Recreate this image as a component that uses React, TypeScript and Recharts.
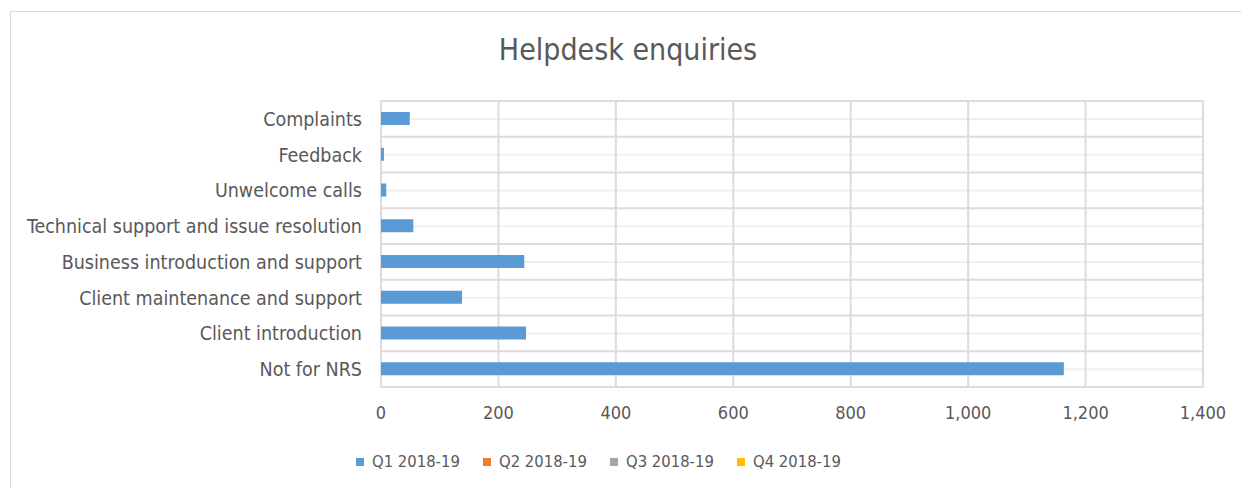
import { BarChart, Bar, XAxis, YAxis, CartesianGrid } from "recharts";

const categories = [
  "Complaints",
  "Feedback",
  "Unwelcome calls",
  "Technical support and issue resolution",
  "Business introduction and support",
  "Client maintenance and support",
  "Client introduction",
  "Not for NRS",
];

const q1 = [49, 5, 9, 55, 244, 138, 247, 1163];
const q2: (number | null)[] = [null, null, null, null, null, null, null, null];
const q3: (number | null)[] = [null, null, null, null, null, null, null, null];
const q4: (number | null)[] = [null, null, null, null, null, null, null, null];

const seriesNames = ["Q1 2018-19", "Q2 2018-19", "Q3 2018-19", "Q4 2018-19"];
const seriesKeys = ["q1", "q2", "q3", "q4"];
const seriesColors = ["#5b9bd5", "#ed7d31", "#a5a5a5", "#ffc000"];

const xTicks = [0, 200, 400, 600, 800, 1000, 1200, 1400];

const data = categories.map((name, i) => ({
  name,
  q1: q1[i],
  q2: q2[i],
  q3: q3[i],
  q4: q4[i],
}));

const FONT = "'DejaVu Sans Condensed', Lato, sans-serif";
const TEXT = "#595959";

const bandLines = (mid: boolean) => ({ offset }: any) => {
  const n = categories.length;
  const out: number[] = [];
  for (let k = 0; k < n + (mid ? 0 : 1); k++) {
    out.push(offset.top + ((k + (mid ? 0.5 : 0)) * offset.height) / n);
  }
  return out;
};

const App = () => {
  return (
    <div
      style={{
        position: "absolute",
        left: 0,
        top: 0,
        width: 1241,
        height: 488,
        background: "#fff",
        overflow: "hidden",
        fontFamily: FONT,
      }}
    >
      <div
        style={{
          position: "absolute",
          left: 10,
          top: 11,
          width: 1240,
          height: 480,
          border: "1.5px solid #d9d9d9",
        }}
      />
      <div
        style={{
          position: "absolute",
          left: 0,
          width: 1256,
          top: 32,
          textAlign: "center",
          fontSize: 30,
          color: TEXT,
        }}
      >
        Helpdesk enquiries
      </div>

      <div style={{ position: "absolute", left: 0, top: 0 }}>
        <BarChart
          width={1241}
          height={488}
          data={data}
          layout="vertical"
          margin={{ top: 101, right: 38, bottom: 71, left: 0 }}
        >
          <CartesianGrid
            vertical={false}
            stroke="#efefef"
            strokeWidth={2}
            horizontalCoordinatesGenerator={bandLines(true)}
          />
          <CartesianGrid
            stroke="#dcdcdc"
            strokeWidth={2}
            horizontalCoordinatesGenerator={bandLines(false)}
          />
          <XAxis
            type="number"
            domain={[0, 1400]}
            ticks={xTicks}
            axisLine={false}
            tickLine={false}
            tickSize={0}
            tickMargin={19}
            height={30}
            tickFormatter={(v: number) => v.toLocaleString("en-US")}
            tick={{ fill: TEXT, fontSize: 18, fontFamily: FONT }}
          />
          <YAxis
            type="category"
            dataKey="name"
            width={381}
            axisLine={false}
            tickLine={false}
            tickSize={0}
            tickMargin={19}
            interval={0}
            tick={{ fill: TEXT, fontSize: 19.5, fontFamily: FONT }}
          />
          {seriesKeys.map((k, i) => (
            <Bar
              key={k}
              dataKey={k}
              name={seriesNames[i]}
              stackId="a"
              fill={seriesColors[i]}
              barSize={13}
              isAnimationActive={false}
            />
          ))}
        </BarChart>
      </div>

      <div
        style={{
          position: "absolute",
          left: 356,
          top: 452,
          display: "flex",
          alignItems: "center",
          fontSize: 16.5,
          color: TEXT,
        }}
      >
        {seriesNames.map((n, i) => (
          <div
            key={n}
            style={{ display: "flex", alignItems: "center", width: 127 }}
          >
            <span
              style={{
                display: "inline-block",
                width: 8,
                height: 8,
                background: seriesColors[i],
                marginRight: 8,
              }}
            />
            <span>{n}</span>
          </div>
        ))}
      </div>
    </div>
  );
};

export default App;
